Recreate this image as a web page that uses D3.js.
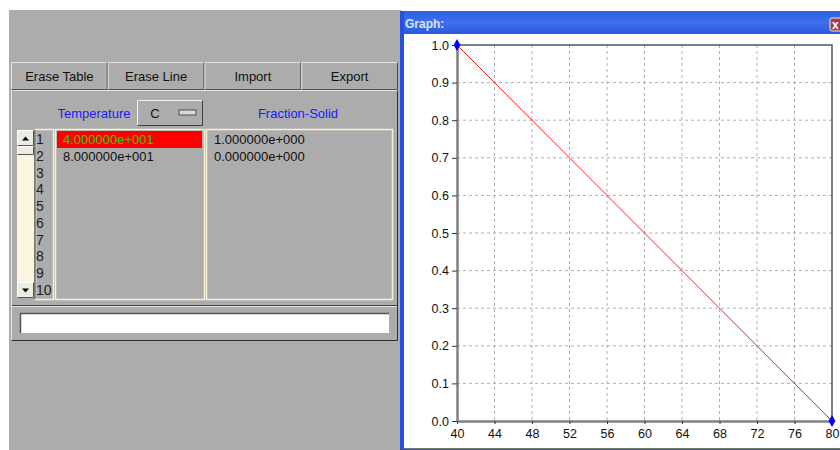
<!DOCTYPE html>
<html>
<head>
<meta charset="utf-8">
<script src="https://cdn.jsdelivr.net/npm/d3@7"></script>
<style>
  body { margin: 0; background: #fff; }
  text { font-family: "Liberation Sans", Arial, sans-serif; }
</style>
</head>
<body>
<svg id="chart" width="840" height="450"></svg>
<script>
// table / graph data
var temperatures = [40, 80];
var fractionSolid = [1.0, 0.0];
var rowNumbers = [1, 2, 3, 4, 5, 6, 7, 8, 9, 10];
var buttonLabels = ["Erase Table", "Erase Line", "Import", "Export"];
var xTicks = [40, 44, 48, 52, 56, 60, 64, 68, 72, 76, 80];
var yTicks = [0.0, 0.1, 0.2, 0.3, 0.4, 0.5, 0.6, 0.7, 0.8, 0.9, 1.0];

var svg = d3.select("#chart");
var grey = "#acacac";

// format like 4.000000e+001
var sci = function(d) {
  return d.toExponential(6).replace(/e([+-])(\d+)$/, function(m, s, p) { return "e" + s + ("000" + p).slice(-3); });
};

// left dialog background
svg.append("rect").attr("x", 9).attr("y", 10).attr("width", 392).attr("height", 440).style("fill", grey);

// helper: 3d box
function bevel(g, x, y, w, h, light, dark, fill) {
  g.append("rect").attr("x", x).attr("y", y).attr("width", w).attr("height", h).style("fill", fill || "none");
  g.append("path").attr("d", "M" + x + "," + (y + h) + "V" + y + "H" + (x + w))
    .style("stroke", light).style("fill", "none");
  g.append("path").attr("d", "M" + x + "," + (y + h) + "H" + (x + w) + "V" + y)
    .style("stroke", dark).style("fill", "none");
}

// buttons
var btnX = d3.scaleBand().domain(buttonLabels).range([11, 398]);
var btns = svg.append("g").attr("class", "buttons");
buttonLabels.forEach(function(b) {
  bevel(btns, btnX(b) + 0.5, 62.5, btnX.bandwidth() - 1, 27, "#e4e4e4", "#505050", grey);
  btns.append("text").attr("x", btnX(b) + btnX.bandwidth() / 2).attr("y", 81)
    .attr("text-anchor", "middle").style("font-size", "13px").style("fill", "#111").text(b);
});

// panel
var panel = svg.append("g");
bevel(panel, 11.5, 90.5, 386, 250, "#e4e4e4", "#303030");
panel.append("line").attr("x1", 12).attr("x2", 397).attr("y1", 305.5).attr("y2", 305.5).style("stroke", "#404040");
panel.append("line").attr("x1", 12).attr("x2", 397).attr("y1", 306.5).attr("y2", 306.5).style("stroke", "#e4e4e4");

// header labels
panel.append("text").attr("x", 94).attr("y", 118).attr("text-anchor", "middle")
  .style("font-size", "13px").style("fill", "#1a1aff").text("Temperature");
panel.append("text").attr("x", 298).attr("y", 118).attr("text-anchor", "middle")
  .style("font-size", "13px").style("fill", "#1a1aff").text("Fraction-Solid");
bevel(panel, 137.5, 100.5, 65, 25, "#f0f0f0", "#404040", grey);
panel.append("text").attr("x", 155).attr("y", 118).attr("text-anchor", "middle")
  .style("font-size", "13px").style("fill", "#111").text("C");
panel.append("rect").attr("x", 179).attr("y", 110).attr("width", 17).attr("height", 5)
  .style("fill", "#d8d8d8").style("stroke", "#333").style("stroke-width", 0.8);

// table rows
var rowY = d3.scaleLinear().domain([1, 10]).range([139, 290]);
var cream = "#f6f0d4";

// scrollbar
panel.append("rect").attr("x", 17).attr("y", 130).attr("width", 17).attr("height", 168).style("fill", "#fbf6df");
bevel(panel, 17.5, 130.5, 16, 15, "#fff", "#555", "#ecebe4");
panel.append("path").attr("d", "M22,140.5h7l-3.5,-4z").style("fill", "#000");
bevel(panel, 17.5, 146.5, 16, 8, "#fff", "#555", "#ecebe4");
bevel(panel, 17.5, 282.5, 16, 15, "#fff", "#555", "#ecebe4");
panel.append("path").attr("d", "M22,288.5h7l-3.5,4z").style("fill", "#000");

// column boxes
[[35, 18], [55, 149], [206, 186]].forEach(function(c) {
  panel.append("rect").attr("x", c[0] + 0.5).attr("y", 129.5).attr("width", c[1]).attr("height", 170)
    .style("fill", grey).style("stroke", cream).style("stroke-width", 1.5);
});
panel.append("line").attr("x1", 35).attr("x2", 35).attr("y1", 130).attr("y2", 299).style("stroke", "#333");

panel.selectAll(".rownum").data(rowNumbers).enter().append("text").attr("class", "rownum")
  .attr("x", 36).attr("y", function(d) { return rowY(d) + 5; })
  .style("font-size", "14px").style("fill", "#222").text(function(d) { return d; });

// highlighted first cell
panel.append("rect").attr("x", 57).attr("y", 131).attr("width", 145).attr("height", 17).style("fill", "#ff0000");

panel.selectAll(".tcell").data(temperatures).enter().append("text").attr("class", "tcell")
  .attr("x", 63).attr("y", function(d, i) { return rowY(i + 1) + 5; })
  .style("font-size", "13px").style("fill", function(d, i) { return i === 0 ? "#33cc00" : "#111"; })
  .text(sci);

panel.selectAll(".fcell").data(fractionSolid).enter().append("text").attr("class", "fcell")
  .attr("x", 214).attr("y", function(d, i) { return rowY(i + 1) + 5; })
  .style("font-size", "13px").style("fill", "#111")
  .text(sci);

// text input
panel.append("rect").attr("x", 20).attr("y", 313).attr("width", 369).attr("height", 20).style("fill", "#fff");
panel.append("path").attr("d", "M20.5,333V313.5H389").style("stroke", "#555").style("stroke-width", 1.5).style("fill", "none");

// graph window
var defs = svg.append("defs");
var grad = defs.append("linearGradient").attr("id", "tbar").attr("x1", 0).attr("x2", 0).attr("y1", 0).attr("y2", 1);
grad.append("stop").attr("offset", 0).attr("stop-color", "#2d5fe6");
grad.append("stop").attr("offset", 0.5).attr("stop-color", "#3f70ec");
grad.append("stop").attr("offset", 1).attr("stop-color", "#2a58dc");

var win = svg.append("g");
win.append("rect").attr("x", 400).attr("y", 11).attr("width", 440).attr("height", 439).style("fill", "#2650dd");
win.append("rect").attr("x", 404).attr("y", 11).attr("width", 436).attr("height", 23).style("fill", "url(#tbar)");
win.append("rect").attr("x", 404).attr("y", 34).attr("width", 436).attr("height", 414).style("fill", "#fff");
win.append("line").attr("x1", 404).attr("x2", 840).attr("y1", 448.5).attr("y2", 448.5).style("stroke", "#777");
win.append("text").attr("x", 405).attr("y", 28).style("font-size", "12px").style("font-weight", "bold")
  .style("fill", "#d8e4ff").text("Graph:");
win.append("rect").attr("x", 830).attr("y", 18).attr("width", 12).attr("height", 13).attr("rx", 2)
  .style("fill", "#a93a52").style("stroke", "#e8e8e8");
win.append("text").attr("x", 832).attr("y", 29).style("font-size", "12px").style("font-weight", "bold")
  .style("fill", "#fff").text("x");

// plot
var x = d3.scaleLinear().domain([40, 80]).range([457, 832]);
var y = d3.scaleLinear().domain([0, 1]).range([421, 45]);
var plot = svg.append("g");

plot.selectAll(".vgrid").data(xTicks.slice(1, -1)).enter().append("line")
  .attr("x1", function(d) { return x(d); }).attr("x2", function(d) { return x(d); })
  .attr("y1", y(1)).attr("y2", y(0))
  .style("stroke", "#b0b0b0").style("stroke-dasharray", "3,3");
plot.selectAll(".hgrid").data(yTicks.slice(1, -1)).enter().append("line")
  .attr("y1", function(d) { return y(d); }).attr("y2", function(d) { return y(d); })
  .attr("x1", x(40)).attr("x2", x(80))
  .style("stroke", "#b0b0b0").style("stroke-dasharray", "3,3");

// frame top/right
plot.append("path").attr("d", "M" + x(40) + "," + y(1) + "H" + x(80) + "V" + y(0))
  .style("stroke", "#555").style("stroke-width", 1.5).style("fill", "none");

var xAxis = plot.append("g").attr("transform", "translate(0," + y(0) + ")")
  .call(d3.axisBottom(x).tickValues(xTicks).tickSize(3).tickSizeOuter(0).tickFormat(d3.format("d")));
var yAxis = plot.append("g").attr("transform", "translate(" + x(40) + ",0)")
  .call(d3.axisLeft(y).tickValues(yTicks).tickSize(5).tickSizeOuter(0).tickFormat(d3.format(".1f")));
[xAxis, yAxis].forEach(function(a) {
  a.select(".domain").style("stroke", "#808080").style("stroke-width", 2.5);
  a.selectAll(".tick line").style("stroke", "#333");
  a.selectAll("text").style("font-size", "12.5px").style("fill", "#111")
    .style("font-family", "'Liberation Sans', Arial, sans-serif");
});
xAxis.selectAll("text").attr("dy", "0.9em");

var pts = temperatures.map(function(t, i) { return [t, fractionSolid[i]]; });
plot.append("path").datum(pts)
  .attr("d", d3.line().x(function(d) { return x(d[0]); }).y(function(d) { return y(d[1]); }))
  .style("stroke", "#ff2020").style("fill", "none").style("stroke-width", 1);
plot.selectAll(".pt").data(pts).enter().append("path")
  .attr("d", d3.symbol().type(d3.symbolDiamond).size(40))
  .attr("transform", function(d) { return "translate(" + x(d[0]) + "," + y(d[1]) + ")"; })
  .style("fill", "#0000ff");
</script>
</body>
</html>
